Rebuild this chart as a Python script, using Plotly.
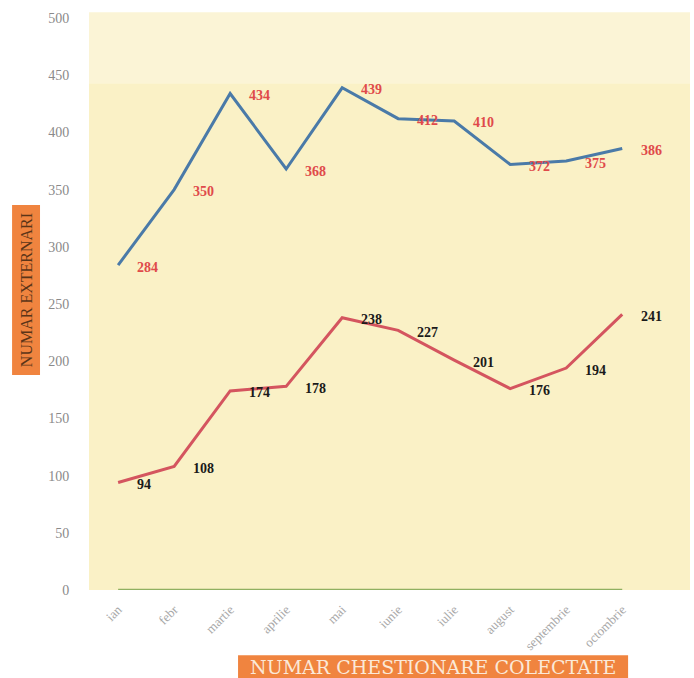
import plotly.graph_objects as go

months = ["ian", "febr", "martie", "aprilie", "mai", "iunie", "iulie", "august", "septembrie", "octombrie"]
externari = [284, 350, 434, 368, 439, 412, 410, 372, 375, 386]
chestionare = [94, 108, 174, 178, 238, 227, 201, 176, 194, 241]
y_ticks = [0, 50, 100, 150, 200, 250, 300, 350, 400, 450, 500]

BLUE = "#4a7aa8"
RED = "#d4555f"
ORANGE = "#f0843f"
SERIF = "Liberation Serif, Times New Roman, serif"

fig = go.Figure()
fig.add_trace(go.Scatter(x=list(range(len(months))), y=externari, mode="lines",
                         line=dict(color=BLUE, width=3), hoverinfo="skip"))
fig.add_trace(go.Scatter(x=list(range(len(months))), y=chestionare, mode="lines",
                         line=dict(color=RED, width=3), hoverinfo="skip"))

annotations = []
for i, v in enumerate(externari):
    annotations.append(dict(x=i, y=v, xref="x", yref="y", text=str(v), showarrow=False,
                            xanchor="left", yanchor="middle", xshift=17, yshift=-2,
                            font=dict(family=SERIF, size=14, color="#e04a4a", weight="bold")))
for i, v in enumerate(chestionare):
    annotations.append(dict(x=i, y=v, xref="x", yref="y", text=str(v), showarrow=False,
                            xanchor="left", yanchor="middle", xshift=17, yshift=-2,
                            font=dict(family=SERIF, size=14, color="#1a1a1a", weight="bold")))

# axis titles in orange boxes
annotations.append(dict(text="NUMAR EXTERNARI", xref="paper", yref="paper", x=-0.105, y=0.524,
                        textangle=-90, showarrow=False, xanchor="center", yanchor="middle",
                        font=dict(family=SERIF, size=16, color="#5a3418")))
annotations.append(dict(text="NUMAR CHESTIONARE COLECTATE", xref="paper", yref="paper", x=0.572, y=-0.134,
                        showarrow=False, xanchor="center", yanchor="middle",
                        font=dict(family="DejaVu Serif, serif", size=19, color="#fbe9d8")))

fig.update_layout(
    width=694, height=678,
    margin=dict(l=89, r=4, t=18, b=88),
    paper_bgcolor="white",
    plot_bgcolor="#faf1c6",
    showlegend=False,
    annotations=annotations,
    shapes=[
        dict(type="rect", xref="paper", yref="paper", x0=0, x1=1, y0=0.885, y1=1.01,
             fillcolor="#fbf4d6", line=dict(width=0), layer="below"),
        dict(type="line", xref="x", yref="y", x0=0, x1=len(months) - 1, y0=0, y1=0,
             line=dict(color="#8fb060", width=2.5)),
        dict(type="rect", xref="paper", yref="paper", x0=0.248, x1=0.897, y0=-0.154, y1=-0.114,
             fillcolor=ORANGE, line=dict(width=0)),
        dict(type="rect", xref="paper", yref="paper", x0=-0.128, x1=-0.0815, y0=0.376, y1=0.673,
             fillcolor=ORANGE, line=dict(width=0)),
    ],
)
fig.update_xaxes(
    tickmode="array", tickvals=list(range(len(months))), ticktext=months,
    range=[-0.52, 10.21], tickangle=-45, showgrid=False, zeroline=False, showline=False,
    tickfont=dict(family=SERIF, size=13, color="#a8a8a8"), automargin=False,
    ticks="outside", ticklen=6, tickcolor="rgba(0,0,0,0)",
)
fig.update_yaxes(
    range=[0, 500], tickmode="array", tickvals=y_ticks, showgrid=False, zeroline=False,
    showline=False, tickfont=dict(family=SERIF, size=14, color="#8a8a8a"), automargin=False,
    ticks="outside", ticklen=16, tickcolor="rgba(0,0,0,0)",
)

fig.write_html("out.html", config={"displayModeBar": False},
               post_script="document.body.style.margin='0';")
